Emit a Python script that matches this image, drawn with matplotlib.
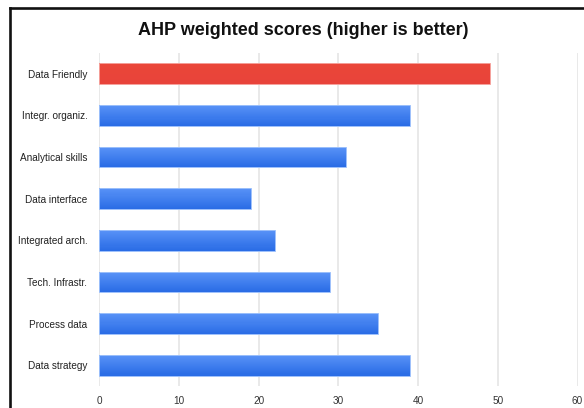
import numpy as np
import matplotlib
matplotlib.use("Agg")
import matplotlib.pyplot as plt
from matplotlib.colors import LinearSegmentedColormap
from matplotlib.lines import Line2D

# Criteria and their AHP weighted scores
categories = ["Data Friendly", "Integr. organiz.", "Analytical skills", "Data interface",
              "Integrated arch.", "Tech. Infrastr.", "Process data", "Data strategy"]
scores = [49, 39, 31, 19, 22, 29, 35, 39]
highlight = ["Data Friendly"]
x_ticks = [0, 10, 20, 30, 40, 50, 60]
title = "AHP weighted scores (higher is better)"

plt.rcParams["font.family"] = ["Liberation Sans", "DejaVu Sans"]

W, H = 584, 408
fig = plt.figure(figsize=(W / 100, H / 100), dpi=100)
ax = fig.add_axes([99.3 / W, 1 - 386 / H, (577.5 - 99.3) / W, (386 - 53) / H])

# colour ramps from the top edge of a bar (lighter) to its bottom edge (darker)
blue_grad = LinearSegmentedColormap.from_list("bg", ["#5892f7", "#2a6ce5"])
red_grad = LinearSegmentedColormap.from_list("rg", ["#ea4639", "#e8433a"])

bar_h = 0.5
n_strips = 20
strip_h = bar_h / n_strips
ypos = np.arange(len(categories))
for y, name, val in zip(ypos, categories, scores):
    cmap = red_grad if name in highlight else blue_grad
    # stack thin horizontal strips to give the fill a vertical gradient
    for k in range(n_strips):
        yc = y - bar_h / 2 + (k + 0.5) * strip_h
        ax.barh(yc, val, height=strip_h * 1.05, color=cmap(k / (n_strips - 1)),
                linewidth=0, zorder=2)
    ax.barh(y, val, height=bar_h, color="none",
            edgecolor="#f5a09a" if name in highlight else "#9cc0fb",
            linewidth=0.7, zorder=3)

ax.set_xlim(0, 60)
ax.set_ylim(len(categories) - 0.5, -0.5)
ax.set_xticks(x_ticks)
ax.set_xticklabels([str(t) for t in x_ticks])
ax.set_yticks(ypos)
ax.set_yticklabels(categories)
ax.xaxis.grid(True, color="#e3e3e3", linewidth=1.1, zorder=0)
ax.set_axisbelow(True)
for s in ax.spines.values():
    s.set_visible(False)
ax.tick_params(axis="both", length=0, labelsize=7.2, colors="#222222")
ax.tick_params(axis="y", pad=8.5)
ax.tick_params(axis="x", pad=7, labelcolor="#333333")

fig.text(303 / W, 1 - 30.5 / H, title, ha="center", va="center",
         fontsize=13, fontweight="bold", color="#111111")

# frame edges along the top and left of the panel
fig.add_artist(Line2D([10 / W, 1.0], [1 - 8 / H, 1 - 8 / H], color="#111111",
                      linewidth=1.9, transform=fig.transFigure))
fig.add_artist(Line2D([10 / W, 10 / W], [1 - 8 / H, 0.0], color="#111111",
                      linewidth=1.9, transform=fig.transFigure))

fig.savefig("out.png", dpi=100)
